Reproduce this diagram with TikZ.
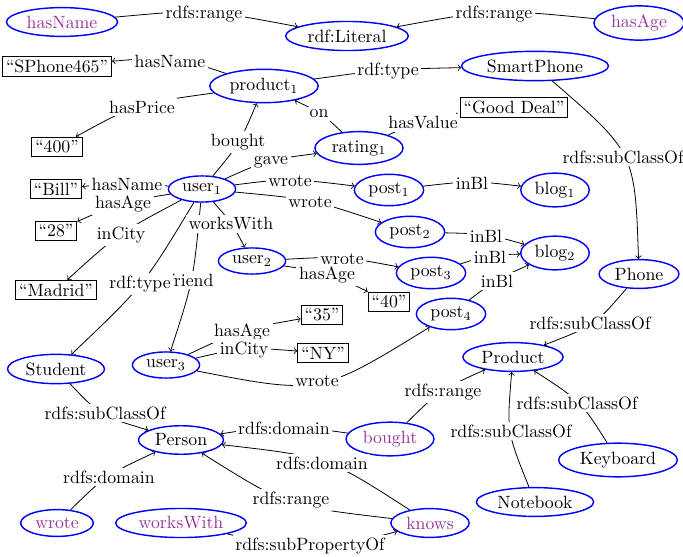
\documentclass[tikz,border=0pt]{standalone}
\usetikzlibrary{shapes.geometric,calc}
\definecolor{propcol}{rgb}{0.6,0.2,0.6}
\tikzset{
  ell/.style={ellipse, draw=blue, thick, inner sep=2.2pt},
  prop/.style={ell, text=propcol},
  litbox/.style={draw=black, line width=0.5pt, inner sep=2pt},
  lbl/.style={fill=white, inner sep=1.5pt},
  arr/.style={->, line width=0.45pt}
}
\newcommand{\cedge}[5]{%
  \coordinate (c#1) at #4;
  \draw[arr] (#2) .. controls ($1.3333*(c#1)-0.16667*(#2)-0.16667*(#3)$) .. (#3);
  \node[lbl] (l#1) at (c#1) {#5};
}
\begin{document}
\begin{tikzpicture}[x=0.5625pt,y=-0.5625pt]
\useasboundingbox (0,0) rectangle (683,557);
% nodes
\node[prop] (hasNameP) at (62,22) {hasName};
\node[ell] (lit) at (347,36) {rdf:Literal};
\node[prop] (hasAgeP) at (639,23) {hasAge};
\node[litbox] (sphone) at (57,66) {“SPhone465”};
\node[ell] (prod1) at (264,86) {product$_1$};
\node[ell] (smart) at (535,66) {SmartPhone};
\node[litbox] (good) at (514,107) {“Good Deal”};
\node[litbox] (p400) at (57,147) {“400”};
\node[ell] (rating1) at (359,148) {rating$_1$};
\node[ell] (user1) at (202,189) {user$_1$};
\node[litbox] (bill) at (56,189) {“Bill”};
\node[litbox] (a28) at (56,231) {“28”};
\node[litbox] (madrid) at (56,290) {“Madrid”};
\node[ell] (post1) at (389,190) {post$_1$};
\node[ell] (blog1) at (555,190) {blog$_1$};
\node[ell] (post2) at (410,232) {post$_2$};
\node[ell] (blog2) at (555,253) {blog$_2$};
\node[ell] (post3) at (431,273) {post$_3$};
\node[ell] (post4) at (451,314) {post$_4$};
\node[ell] (phone) at (639,274) {Phone};
\node[ell] (product) at (513,357) {Product};
\node[ell] (user2) at (252,261) {user$_2$};
\node[litbox] (a40) at (389,302) {“40”};
\node[litbox] (a35) at (322,315) {“35”};
\node[litbox] (ny) at (323,353) {“NY”};
\node[ell] (user3) at (166,365) {user$_3$};
\node[ell] (student) at (56,369) {Student};
\node[ell] (person) at (181,440) {Person};
\node[prop] (boughtP) at (390,439) {bought};
\node[prop] (knows) at (430,523) {knows};
\node[ell] (keyboard) at (618,460) {Keyboard};
\node[ell] (notebook) at (535,502) {Notebook};
\node[prop] (wroteP) at (57,523) {wrote};
\node[prop] (worksP) at (181,523) {worksWith};
% edges
\cedge{1}{hasNameP}{lit}{(204,14)}{rdfs:range}
\cedge{2}{hasAgeP}{lit}{(494,14)}{rdfs:range}
\cedge{3}{prod1}{sphone}{(170,61)}{hasName}
\cedge{4}{prod1}{p400}{(142,107)}{hasPrice}
\cedge{5}{user1}{prod1}{(238,142)}{bought}
\cedge{6}{user1}{rating1}{(271,162)}{gave}
\cedge{7}{rating1}{prod1}{(319,114)}{on}
\cedge{8}{prod1}{smart}{(388,71)}{rdf:type}
\cedge{9}{rating1}{good}{(423,123)}{hasValue}
\cedge{10}{smart}{phone}{(623,157)}{rdfs:subClassOf}
\cedge{11}{user1}{bill}{(127,184)}{hasName}
\cedge{12}{user1}{a28}{(123,204)}{hasAge}
\cedge{13}{user1}{madrid}{(121,235)}{inCity}
\cedge{14}{user1}{user3}{(191,280)}{friend}
\cedge{15}{user1}{student}{(140,284)}{rdf:type}
\cedge{16}{user1}{user2}{(231,224)}{worksWith}
\cedge{17}{user1}{post1}{(290,181)}{wrote}
\cedge{18}{user1}{post2}{(310,202)}{wrote}
\cedge{19}{post1}{blog1}{(472,183)}{inBl}
\cedge{20}{post2}{blog2}{(486,236)}{inBl}
\cedge{21}{post3}{blog2}{(490,257)}{inBl}
\cedge{22}{post4}{blog2}{(497,281)}{inBl}
\cedge{23}{user2}{post3}{(342,259)}{wrote}
\cedge{24}{user2}{a40}{(327,275)}{hasAge}
\cedge{25}{user3}{a35}{(242,332)}{hasAge}
\cedge{26}{user3}{ny}{(244,350)}{inCity}
\cedge{27}{user3}{post4}{(317,381)}{wrote}
\cedge{28}{phone}{product}{(590,323)}{rdfs:subClassOf}
\cedge{29}{student}{person}{(105,413)}{rdfs:subClassOf}
\cedge{30}{boughtP}{person}{(284,428)}{rdfs:domain}
\cedge{31}{knows}{person}{(322,463)}{rdfs:domain}
\cedge{32}{wroteP}{person}{(109,477)}{rdfs:domain}
\cedge{33}{knows}{person}{(291,500)}{rdfs:range}
\cedge{34}{worksP}{knows}{(310,546)}{rdfs:subPropertyOf}
\cedge{35}{boughtP}{product}{(443,392)}{rdfs:range}
\cedge{36}{notebook}{product}{(511,431)}{rdfs:subClassOf}
\cedge{37}{keyboard}{product}{(577,403)}{rdfs:subClassOf}
\end{tikzpicture}
\end{document}
